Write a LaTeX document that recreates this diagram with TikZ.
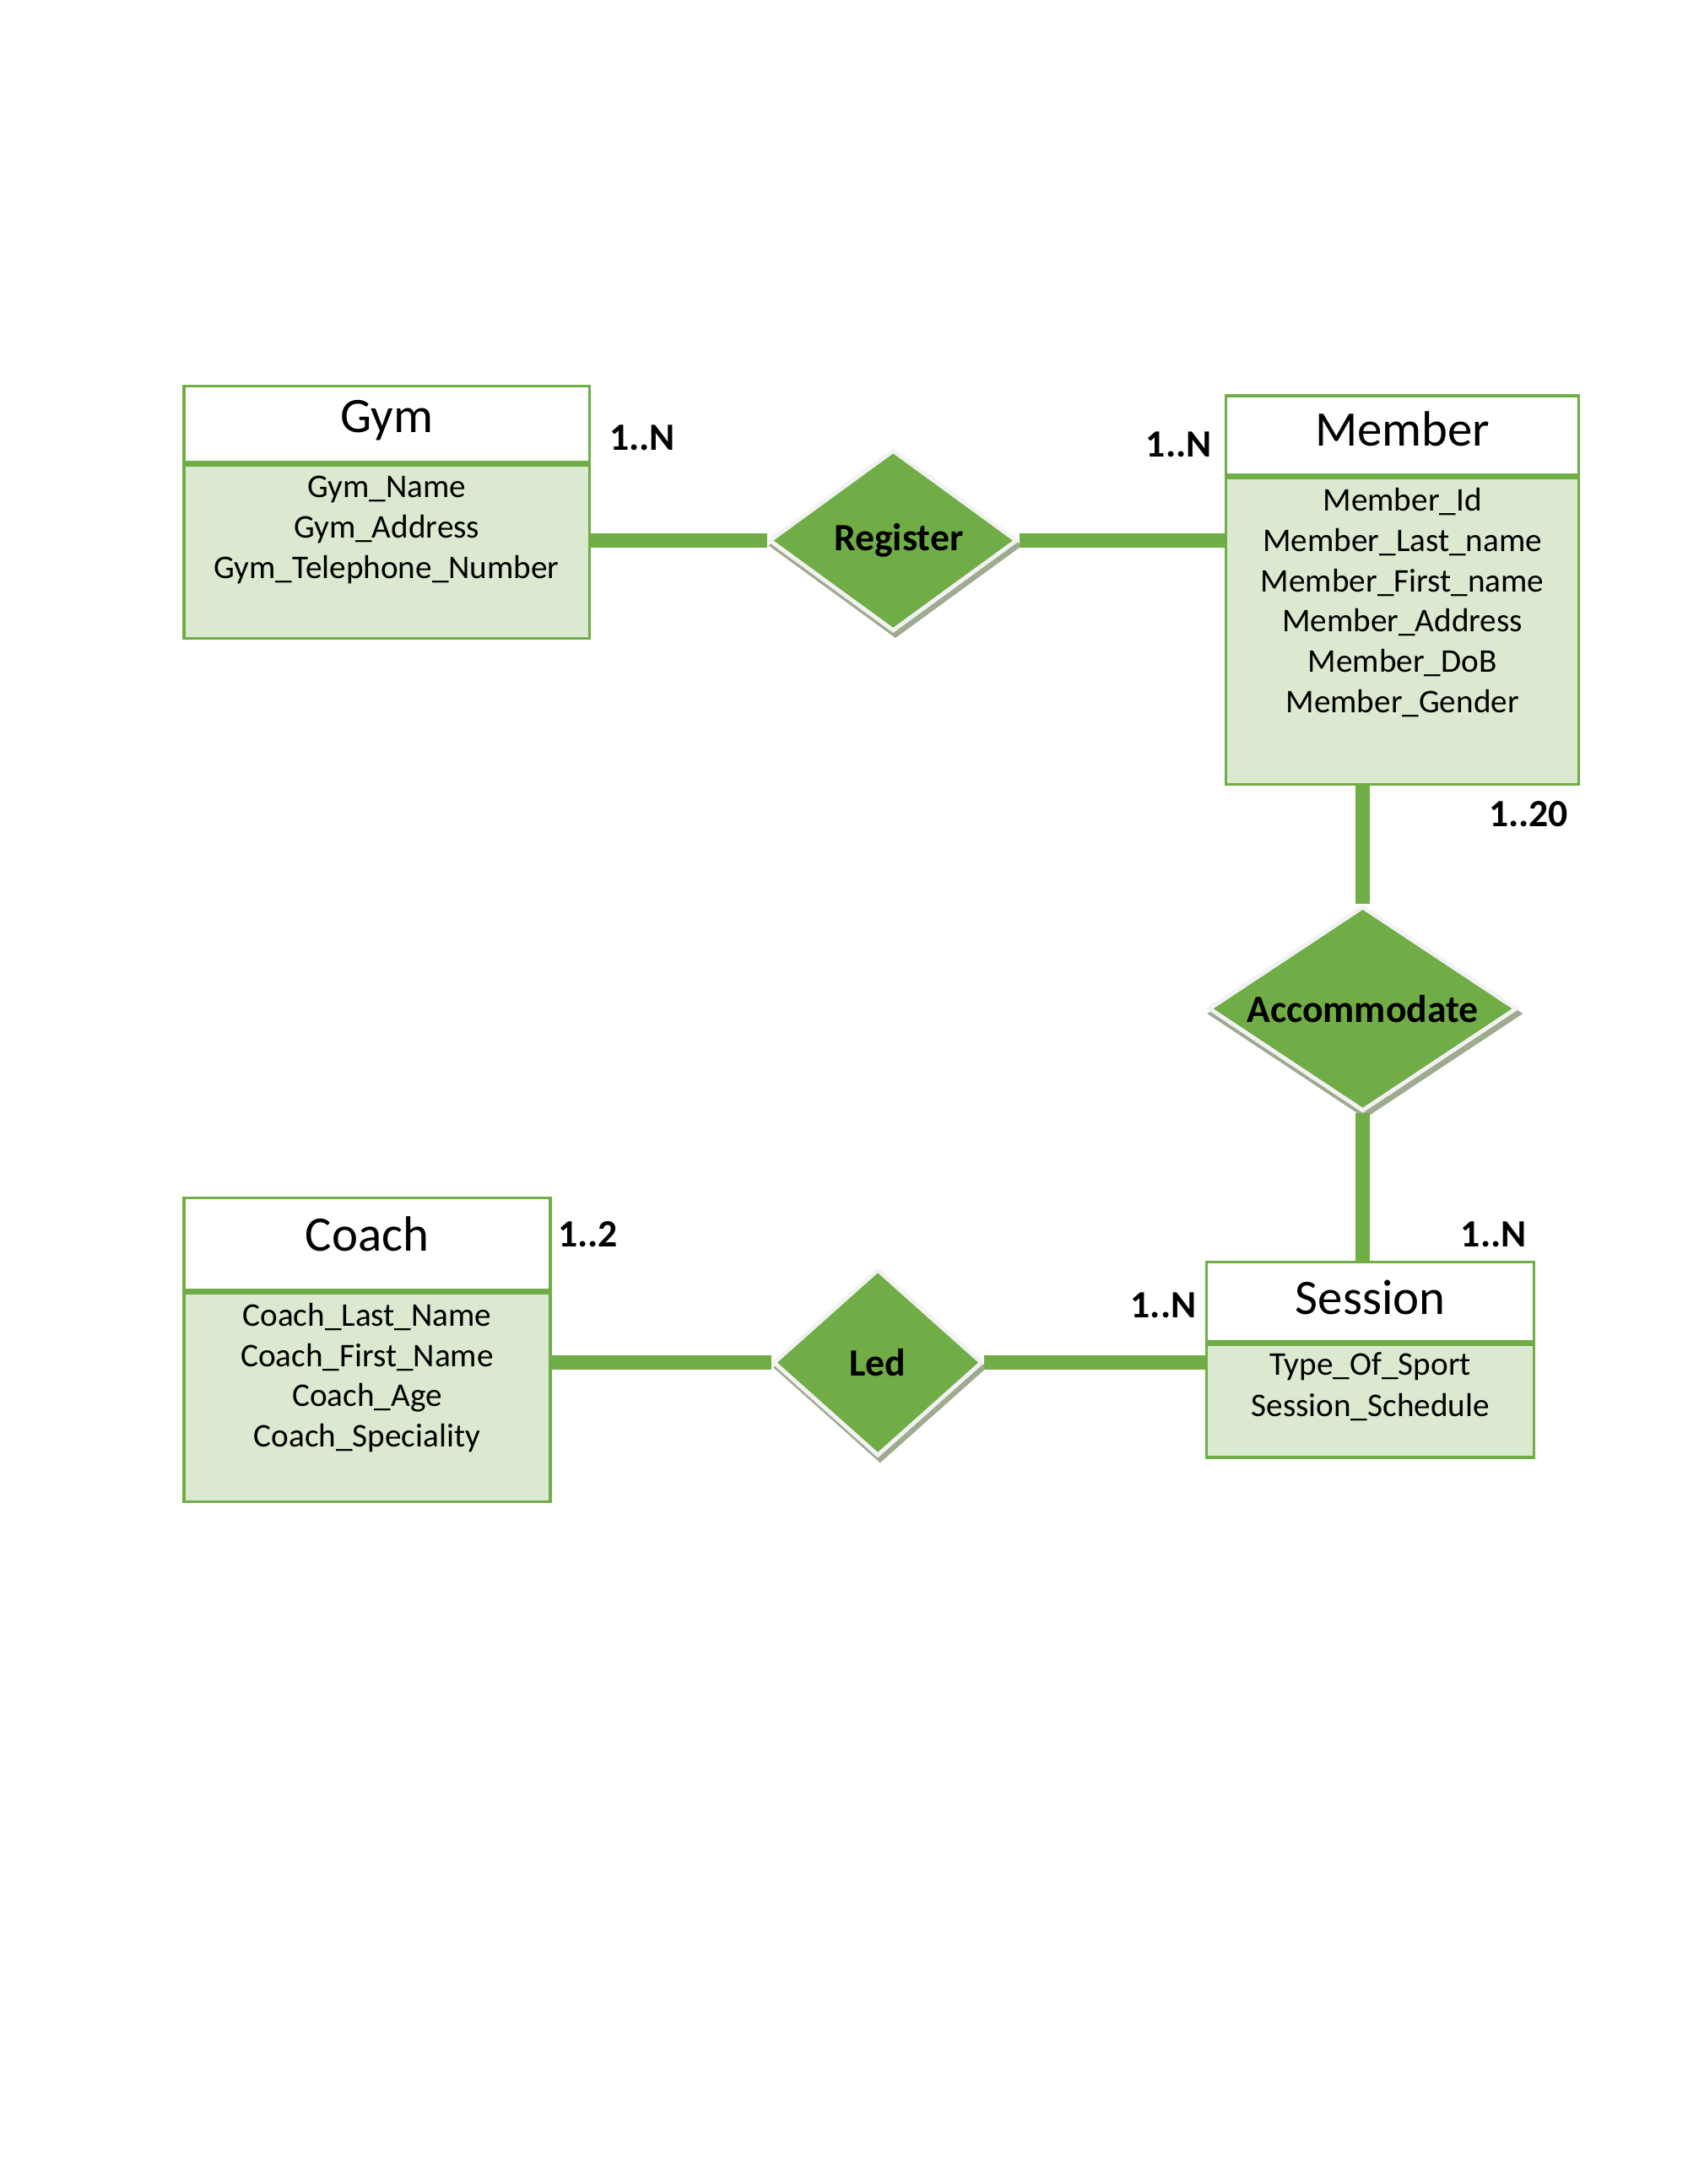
\documentclass[tikz,border=0pt]{standalone}
\usepackage{fontspec}
\setmainfont{Carlito}
\usetikzlibrary{shapes.geometric,shadows}
\definecolor{ergreen}{HTML}{70AD47}
\definecolor{erlight}{HTML}{DAE9CF}
\definecolor{erborder}{HTML}{F2F2F2}
\definecolor{ershadow}{HTML}{9EAB91}
\def\u{0.5052pt}
\tikzset{
  enthead/.style={draw=ergreen, line width=1pt, fill=white, inner sep=0pt},
  entbody/.style={draw=ergreen, line width=1pt, fill=erlight, inner sep=0pt},
  enttitle/.style={font=\fontsize{18}{22}\selectfont, inner sep=0pt},
  attr/.style={font=\fontsize{12}{14.5}\selectfont, inner sep=0pt},
  card/.style={font=\fontsize{14}{17}\selectfont\bfseries, inner sep=0pt},
  rel/.style={diamond, shape aspect=1.5, draw=erborder, line width=1.5pt, fill=ergreen,
    inner sep=0pt, font=\fontsize{14}{17}\selectfont\bfseries,
    drop shadow={shadow xshift=0.8pt, shadow yshift=-1.75pt, shadow scale=1.03,
      fill=ershadow, opacity=1}},
  link/.style={draw=ergreen, line width=5pt},
  sepline/.style={draw=ergreen, line width=2pt}
}
\begin{document}
\begin{tikzpicture}[x=\u, y=-\u]
    \useasboundingbox (0,0) rectangle (1211.4,1567.6);
    % entites
    \node[enthead, minimum width=291*\u, minimum height=55*\u] (gymH) at (277.5,304.5) {};
    \node[entbody, minimum width=291*\u, minimum height=126*\u] (gymB) at (277.5,395) {};
    \draw[sepline] (gymH.south west) -- (gymH.south east);
    \node[enttitle] (gymT) at (277.5,302) {Gym};
    \foreach \i/\t in {1/Gym\_Name, 2/Gym\_Address, 3/Gym\_Telephone\_Number}
    \node[attr] (gymA\i) at (277.5,{322+29*\i}) {\t};

    \node[enthead, minimum width=253*\u, minimum height=57*\u] (memberH) at (1006.5,312.5) {};
    \node[entbody, minimum width=253*\u, minimum height=222*\u] (memberB) at (1006.5,452) {};
    \draw[sepline] (memberH.south west) -- (memberH.south east);
    \node[enttitle] (memberT) at (1006.5,308) {Member};
    \foreach \i/\t in {1/Member\_Id, 2/Member\_Last\_name, 3/Member\_First\_name,
        4/Member\_Address, 5/Member\_DoB, 6/Member\_Gender}
    \node[attr] (memberA\i) at (1006.5,{331+29*\i}) {\t};

    \node[enthead, minimum width=263*\u, minimum height=66*\u] (coachH) at (263.5,893) {};
    \node[entbody, minimum width=263*\u, minimum height=152*\u] (coachB) at (263.5,1002) {};
    \draw[sepline] (coachH.south west) -- (coachH.south east);
    \node[enttitle] (coachT) at (263.5,886) {Coach};
    \foreach \i/\t in {1/Coach\_Last\_Name, 2/Coach\_First\_Name, 3/Coach\_Age, 4/Coach\_Speciality}
    \node[attr] (coachA\i) at (263.5,{916+29*\i}) {\t};

    \node[enthead, minimum width=235*\u, minimum height=57*\u] (sessionH) at (983.5,934.5) {};
    \node[entbody, minimum width=235*\u, minimum height=83*\u] (sessionB) at (983.5,1004.5) {};
    \draw[sepline] (sessionH.south west) -- (sessionH.south east);
    \node[enttitle] (sessionT) at (983.5,931) {Session};
    \foreach \i/\t in {1/Type\_Of\_Sport, 2/Session\_Schedule}
    \node[attr] (sessionA\i) at (983.5,{952+29*\i}) {\t};

    % associations
    \node[rel, minimum width=178*\u, minimum height=130*\u] (register) at (641,388) {\hspace*{4pt}Register};
    \node[rel, minimum width=221*\u, minimum height=147*\u] (accommodate) at (978,724) {Accommodate};
    \node[rel, minimum width=150*\u, minimum height=134*\u] (led) at (630,978) {Led};

    \draw[link] (gymB.east |- register) -- (register.west);
    \draw[link] (register.east) -- (register.east -| memberB.west);
    \draw[link] (accommodate.north |- memberB.south) -- (accommodate.north);
    \draw[link] (accommodate.south) -- (accommodate.south |- sessionH.north);
    \draw[link] (coachB.east |- led) -- (led.west);
    \draw[link] (led.east) -- (led.east -| sessionB.west);

    % cardinalites
    \node[card] (cardGym) at (461,314) {1..N};
    \node[card] (cardMemR) at (846,319) {1..N};
    \node[card] (cardMemA) at (1097,584) {1..20};
    \node[card] (cardSesA) at (1072,886) {1..N};
    \node[card] (cardSesL) at (835,937) {1..N};
    \node[card] (cardCoach) at (422,886) {1..2};
\end{tikzpicture}
\end{document}
